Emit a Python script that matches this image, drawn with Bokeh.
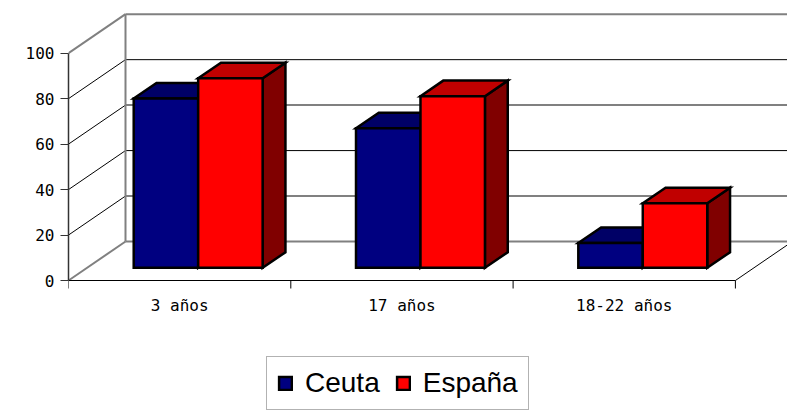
from bokeh.plotting import figure
from bokeh.models import Range1d, LinearAxis, FixedTicker, Legend, LegendItem
from bokeh.core.properties import value
from bokeh.embed import file_html
from bokeh.resources import INLINE

# ---- data ----
categories = ["3 años", "17 años", "18-22 años"]
ceuta = [74.5, 61.4, 10.9]
espana = [83.4, 75.5, 28.4]
series_names = ["Ceuta", "España"]
y_ticks = [0, 20, 40, 60, 80, 100]

# ---- 3D projection constants (style) ----
PX_X = 222.3          # px per category
PX_Y = 2.273          # px per value unit
DX = 57 / PX_X        # full depth shift along x (data units)
DY = 39 / PX_Y        # full depth shift along y (data units)
Z0, Z1 = 0.325, 0.725 # bar front / back depth
BAR_W = 0.29
N = len(categories)
FW, FH = 719, 412
BASE = 280            # pixel row of value 0 from top

fill_front = ["#000080", "#FF0000"]
fill_top = ["#000066", "#C00000"]
fill_side = ["#000040", "#800000"]

p = figure(frame_width=FW, frame_height=FH, output_backend="svg", toolbar_location=None,
           x_range=Range1d(0, FW / PX_X), y_range=Range1d(-(FH - BASE) / PX_Y, BASE / PX_Y),
           x_axis_type=None, y_axis_type=None,
           min_border_left=68, min_border_right=0, min_border_top=0, min_border_bottom=0)
p.outline_line_color = None
p.background_fill_color = "white"


def proj(x, v, z):
    return x + z * DX, v + z * DY


GRAY = "#808080"
x_end = N + DX
for v in y_ticks:
    gray = v in (0, 20, 60, 100)
    y = v + DY
    p.segment(x0=[DX], y0=[y], x1=[x_end], y1=[y],
              line_color=GRAY if gray else "#000000", line_width=2 if gray else 1)
for v in y_ticks:
    edge = v in (0, 100)
    p.segment(x0=[0], y0=[v], x1=[DX], y1=[v + DY],
              line_color=GRAY if edge else "#000000", line_width=2 if edge else 1)
p.segment(x0=[DX], y0=[DY], x1=[DX], y1=[100 + DY], line_color=GRAY, line_width=2)
p.segment(x0=[N], y0=[0], x1=[N + DX], y1=[DY], line_color="#000000", line_width=1)

# ---- category axis (floor front edge, ticks at group bounds, labels at centres) ----
bounds = list(range(N + 1))
p.segment(x0=[0], y0=[0], x1=[N], y1=[0], line_color="#000000", line_width=1)
p.segment(x0=bounds, y0=[0] * len(bounds), x1=bounds, y1=[-8 / PX_Y] * len(bounds),
          line_color="#000000", line_width=1)
p.text(x=[i + 0.5 for i in range(N)], y=[-25 / PX_Y] * N, text=categories,
       text_align="center", text_baseline="middle", text_color="#000000",
       text_font=value("DejaVu Sans Mono"), text_font_size="16px")

# ---- bars ----
legend_items = []
for s, vals in enumerate([ceuta, espana]):
    fx, fy, tx, ty, sx, sy = [], [], [], [], [], []
    for i, v in enumerate(vals):
        x0 = i + 0.5 - BAR_W + s * BAR_W
        x1 = x0 + BAR_W
        a = proj(x0, 0, Z0); b = proj(x1, 0, Z0); c = proj(x1, v, Z0); d = proj(x0, v, Z0)
        e = proj(x0, v, Z1); f = proj(x1, v, Z1); g = proj(x1, 0, Z1)
        fx.append([a[0], b[0], c[0], d[0]]); fy.append([a[1], b[1], c[1], d[1]])
        tx.append([d[0], c[0], f[0], e[0]]); ty.append([d[1], c[1], f[1], e[1]])
        sx.append([b[0], g[0], f[0], c[0]]); sy.append([b[1], g[1], f[1], c[1]])
    p.patches(sx, sy, fill_color=fill_side[s], line_color="black", line_width=2.5, line_join="miter")
    p.patches(tx, ty, fill_color=fill_top[s], line_color="black", line_width=2.5, line_join="miter")
    r_front = p.patches(fx, fy, fill_color=fill_front[s], line_color="black", line_width=2.5, line_join="miter")
    legend_items.append(LegendItem(label=series_names[s], renderers=[r_front]))

# ---- value axis ----
yaxis = LinearAxis(ticker=FixedTicker(ticks=y_ticks), bounds=(0, 100),
                   major_tick_out=8, major_tick_in=0, minor_tick_out=0, minor_tick_in=0,
                   major_label_standoff=6, major_label_text_font="DejaVu Sans Mono",
                   major_label_text_font_size="16px", major_label_text_color="#000000",
                   axis_line_color="#333333", axis_line_width=1.5, major_tick_line_color="#333333")
p.add_layout(yaxis, "left")

legend = Legend(items=legend_items, orientation="horizontal", location=(198, 2),
                label_text_font="Liberation Sans", label_text_font_size="28px",
                label_text_color="#000000",
                glyph_width=16, glyph_height=16, label_standoff=12, spacing=15,
                padding=10, margin=0, border_line_color="#666666", border_line_width=1,
                background_fill_alpha=1)
p.add_layout(legend)

open("out.html", "w").write(file_html(p, INLINE))
